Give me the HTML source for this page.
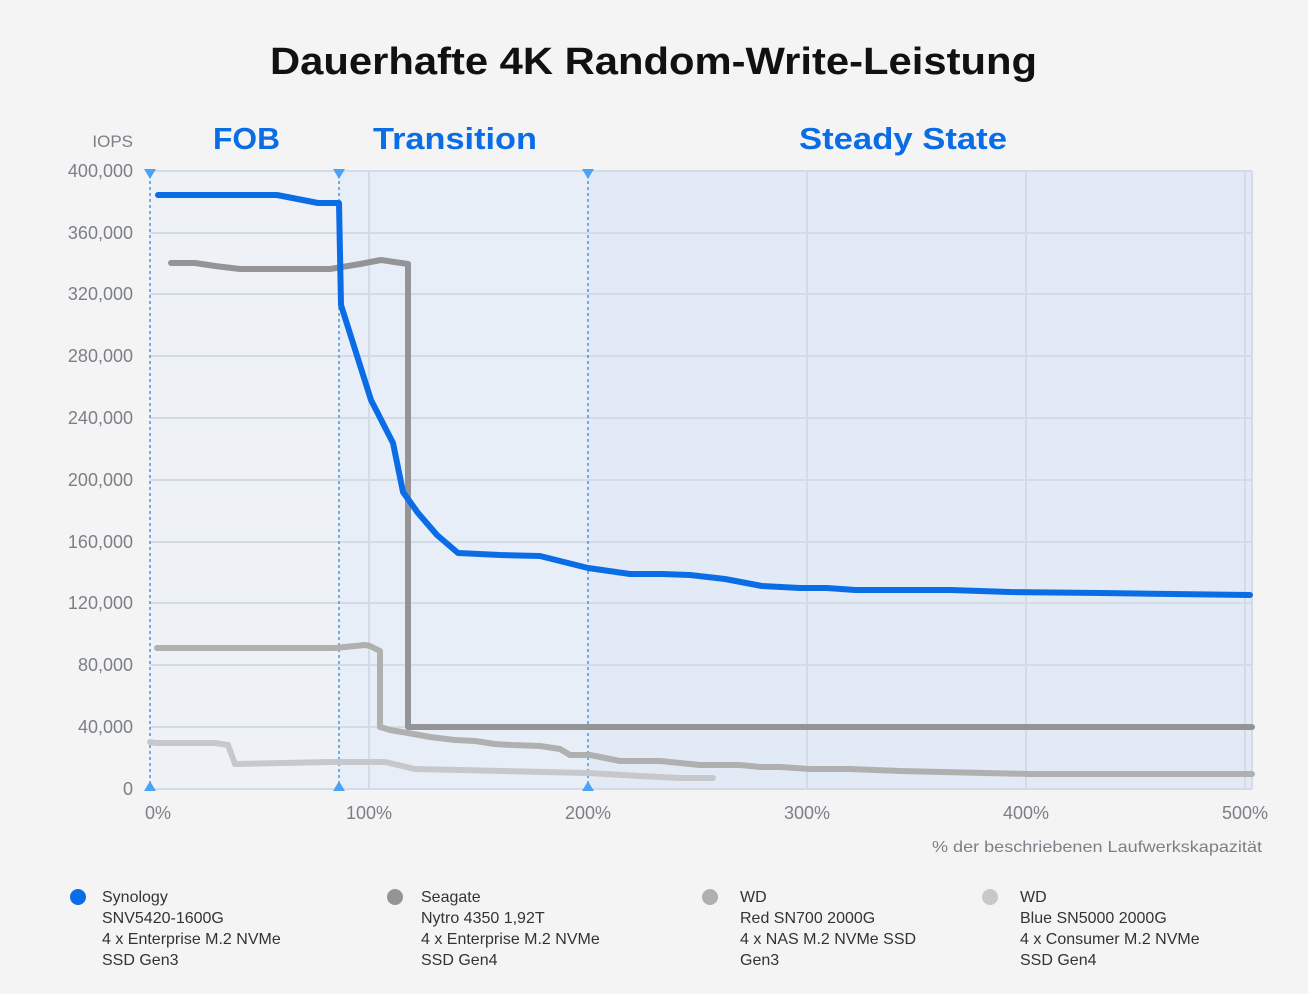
<!DOCTYPE html>
<html><head><meta charset="utf-8"><style>
body{margin:0;background:#f4f4f4;font-family:"Liberation Sans",sans-serif}
</style></head><body>
<svg width="1308" height="989" viewBox="0 0 1308 989" xmlns="http://www.w3.org/2000/svg" font-family="Liberation Sans, sans-serif">
<rect width="1308" height="989" fill="#f4f4f4"/>
<text x="270" y="74" textLength="767" lengthAdjust="spacingAndGlyphs" font-size="38" font-weight="bold" fill="#111">Dauerhafte 4K Random-Write-Leistung</text>
<rect x="150" y="171" width="189" height="618" fill="#eef1f6"/>
<rect x="339" y="171" width="249" height="618" fill="#e8eef7"/>
<rect x="588" y="171" width="664" height="618" fill="#e2eaf5"/>
<g stroke="#d3dbe6" stroke-width="2">
<line x1="150" x2="1252" y1="171" y2="171"/><line x1="150" x2="1252" y1="233" y2="233"/><line x1="150" x2="1252" y1="294" y2="294"/><line x1="150" x2="1252" y1="356" y2="356"/><line x1="150" x2="1252" y1="418" y2="418"/><line x1="150" x2="1252" y1="480" y2="480"/><line x1="150" x2="1252" y1="542" y2="542"/><line x1="150" x2="1252" y1="603" y2="603"/><line x1="150" x2="1252" y1="665" y2="665"/><line x1="150" x2="1252" y1="727" y2="727"/><line x1="150" x2="1252" y1="789" y2="789"/>
<line x1="369" x2="369" y1="171" y2="789"/><line x1="807" x2="807" y1="171" y2="789"/><line x1="1026" x2="1026" y1="171" y2="789"/><line x1="1245" x2="1245" y1="171" y2="789"/><line x1="1252" x2="1252" y1="171" y2="789"/>
</g>
<g stroke="#3a9af5" stroke-width="1.5" stroke-dasharray="3,3">
<line x1="150" x2="150" y1="175" y2="785"/><line x1="339" x2="339" y1="175" y2="785"/><line x1="588" x2="588" y1="175" y2="785"/>
</g>
<g fill="#4aa3f7">
<path d="M144 169h12l-6 10z"/><path d="M333 169h12l-6 10z"/><path d="M582 169h12l-6 10z"/>
<path d="M144 791h12l-6-10z"/><path d="M333 791h12l-6-10z"/><path d="M582 791h12l-6-10z"/>
</g>
<g font-size="18" fill="#7b7f87" text-anchor="end">
<text x="133" y="147" font-size="17">IOPS</text>
<text x="133" y="177">400,000</text><text x="133" y="239">360,000</text><text x="133" y="300">320,000</text><text x="133" y="362">280,000</text><text x="133" y="424">240,000</text><text x="133" y="486">200,000</text><text x="133" y="548">160,000</text><text x="133" y="609">120,000</text><text x="133" y="671">80,000</text><text x="133" y="733">40,000</text><text x="133" y="795">0</text>
</g>
<g font-size="18" fill="#7b7f87" text-anchor="middle">
<text x="158" y="819">0%</text><text x="369" y="819">100%</text><text x="588" y="819">200%</text><text x="807" y="819">300%</text><text x="1026" y="819">400%</text><text x="1245" y="819">500%</text>
</g>
<text x="932" y="852" textLength="330" lengthAdjust="spacingAndGlyphs" font-size="16" fill="#7b7f87">% der beschriebenen Laufwerkskapazität</text>
<g font-size="31" font-weight="bold" fill="#0a6de6">
<text x="213" y="149" textLength="67" lengthAdjust="spacingAndGlyphs">FOB</text><text x="373" y="149" textLength="164" lengthAdjust="spacingAndGlyphs">Transition</text><text x="799" y="149" textLength="208" lengthAdjust="spacingAndGlyphs">Steady State</text>
</g>
<g fill="none" stroke-linecap="round" stroke-linejoin="round" stroke-width="6">
<polyline stroke="#c6c8cc" points="150,742 155,743 215,743 228,745 235,764 330,762 385,762 415,769 588,773 640,776 680,778 713,778"/>
<polyline stroke="#b1b0b1" points="157,648 335,648 365,645 370,646 380,651 380,727 390,730 408,733 430,737 455,740 475,741 495,744 512,745 540,746 560,749 570,755 590,755 620,761 660,761 700,765 740,765 760,767 780,767 810,769 850,769 900,771 1030,774 1252,774"/>
<polyline stroke="#949496" points="171,263 195,263 215,266 240,269 330,269 360,264 381,260 408,264 408,727 1252,727"/>
<polyline stroke="#0a6de6" points="158,195 277,195 318,203 339,203 341,305 371,400 393,443 403,492 418,513 437,535 458,553 500,555 540,556 588,568 630,574 662,574 690,575 725,579 762,586 800,588 827,588 855,590 950,590 1010,592 1100,593 1250,595"/>
</g>
<g font-size="16" fill="#333">
<circle cx="78" cy="897" r="8" fill="#0a6de6"/>
<text x="102" y="902">Synology</text><text x="102" y="923">SNV5420-1600G</text><text x="102" y="944">4 x Enterprise M.2 NVMe</text><text x="102" y="965">SSD Gen3</text>
<circle cx="395" cy="897" r="8" fill="#949496"/>
<text x="421" y="902">Seagate</text><text x="421" y="923">Nytro 4350 1,92T</text><text x="421" y="944">4 x Enterprise M.2 NVMe</text><text x="421" y="965">SSD Gen4</text>
<circle cx="710" cy="897" r="8" fill="#b1b0b1"/>
<text x="740" y="902">WD</text><text x="740" y="923">Red SN700 2000G</text><text x="740" y="944">4 x NAS M.2 NVMe SSD</text><text x="740" y="965">Gen3</text>
<circle cx="990" cy="897" r="8" fill="#c6c8cc"/>
<text x="1020" y="902">WD</text><text x="1020" y="923">Blue SN5000 2000G</text><text x="1020" y="944">4 x Consumer M.2 NVMe</text><text x="1020" y="965">SSD Gen4</text>
</g>
</svg>
</body></html>
